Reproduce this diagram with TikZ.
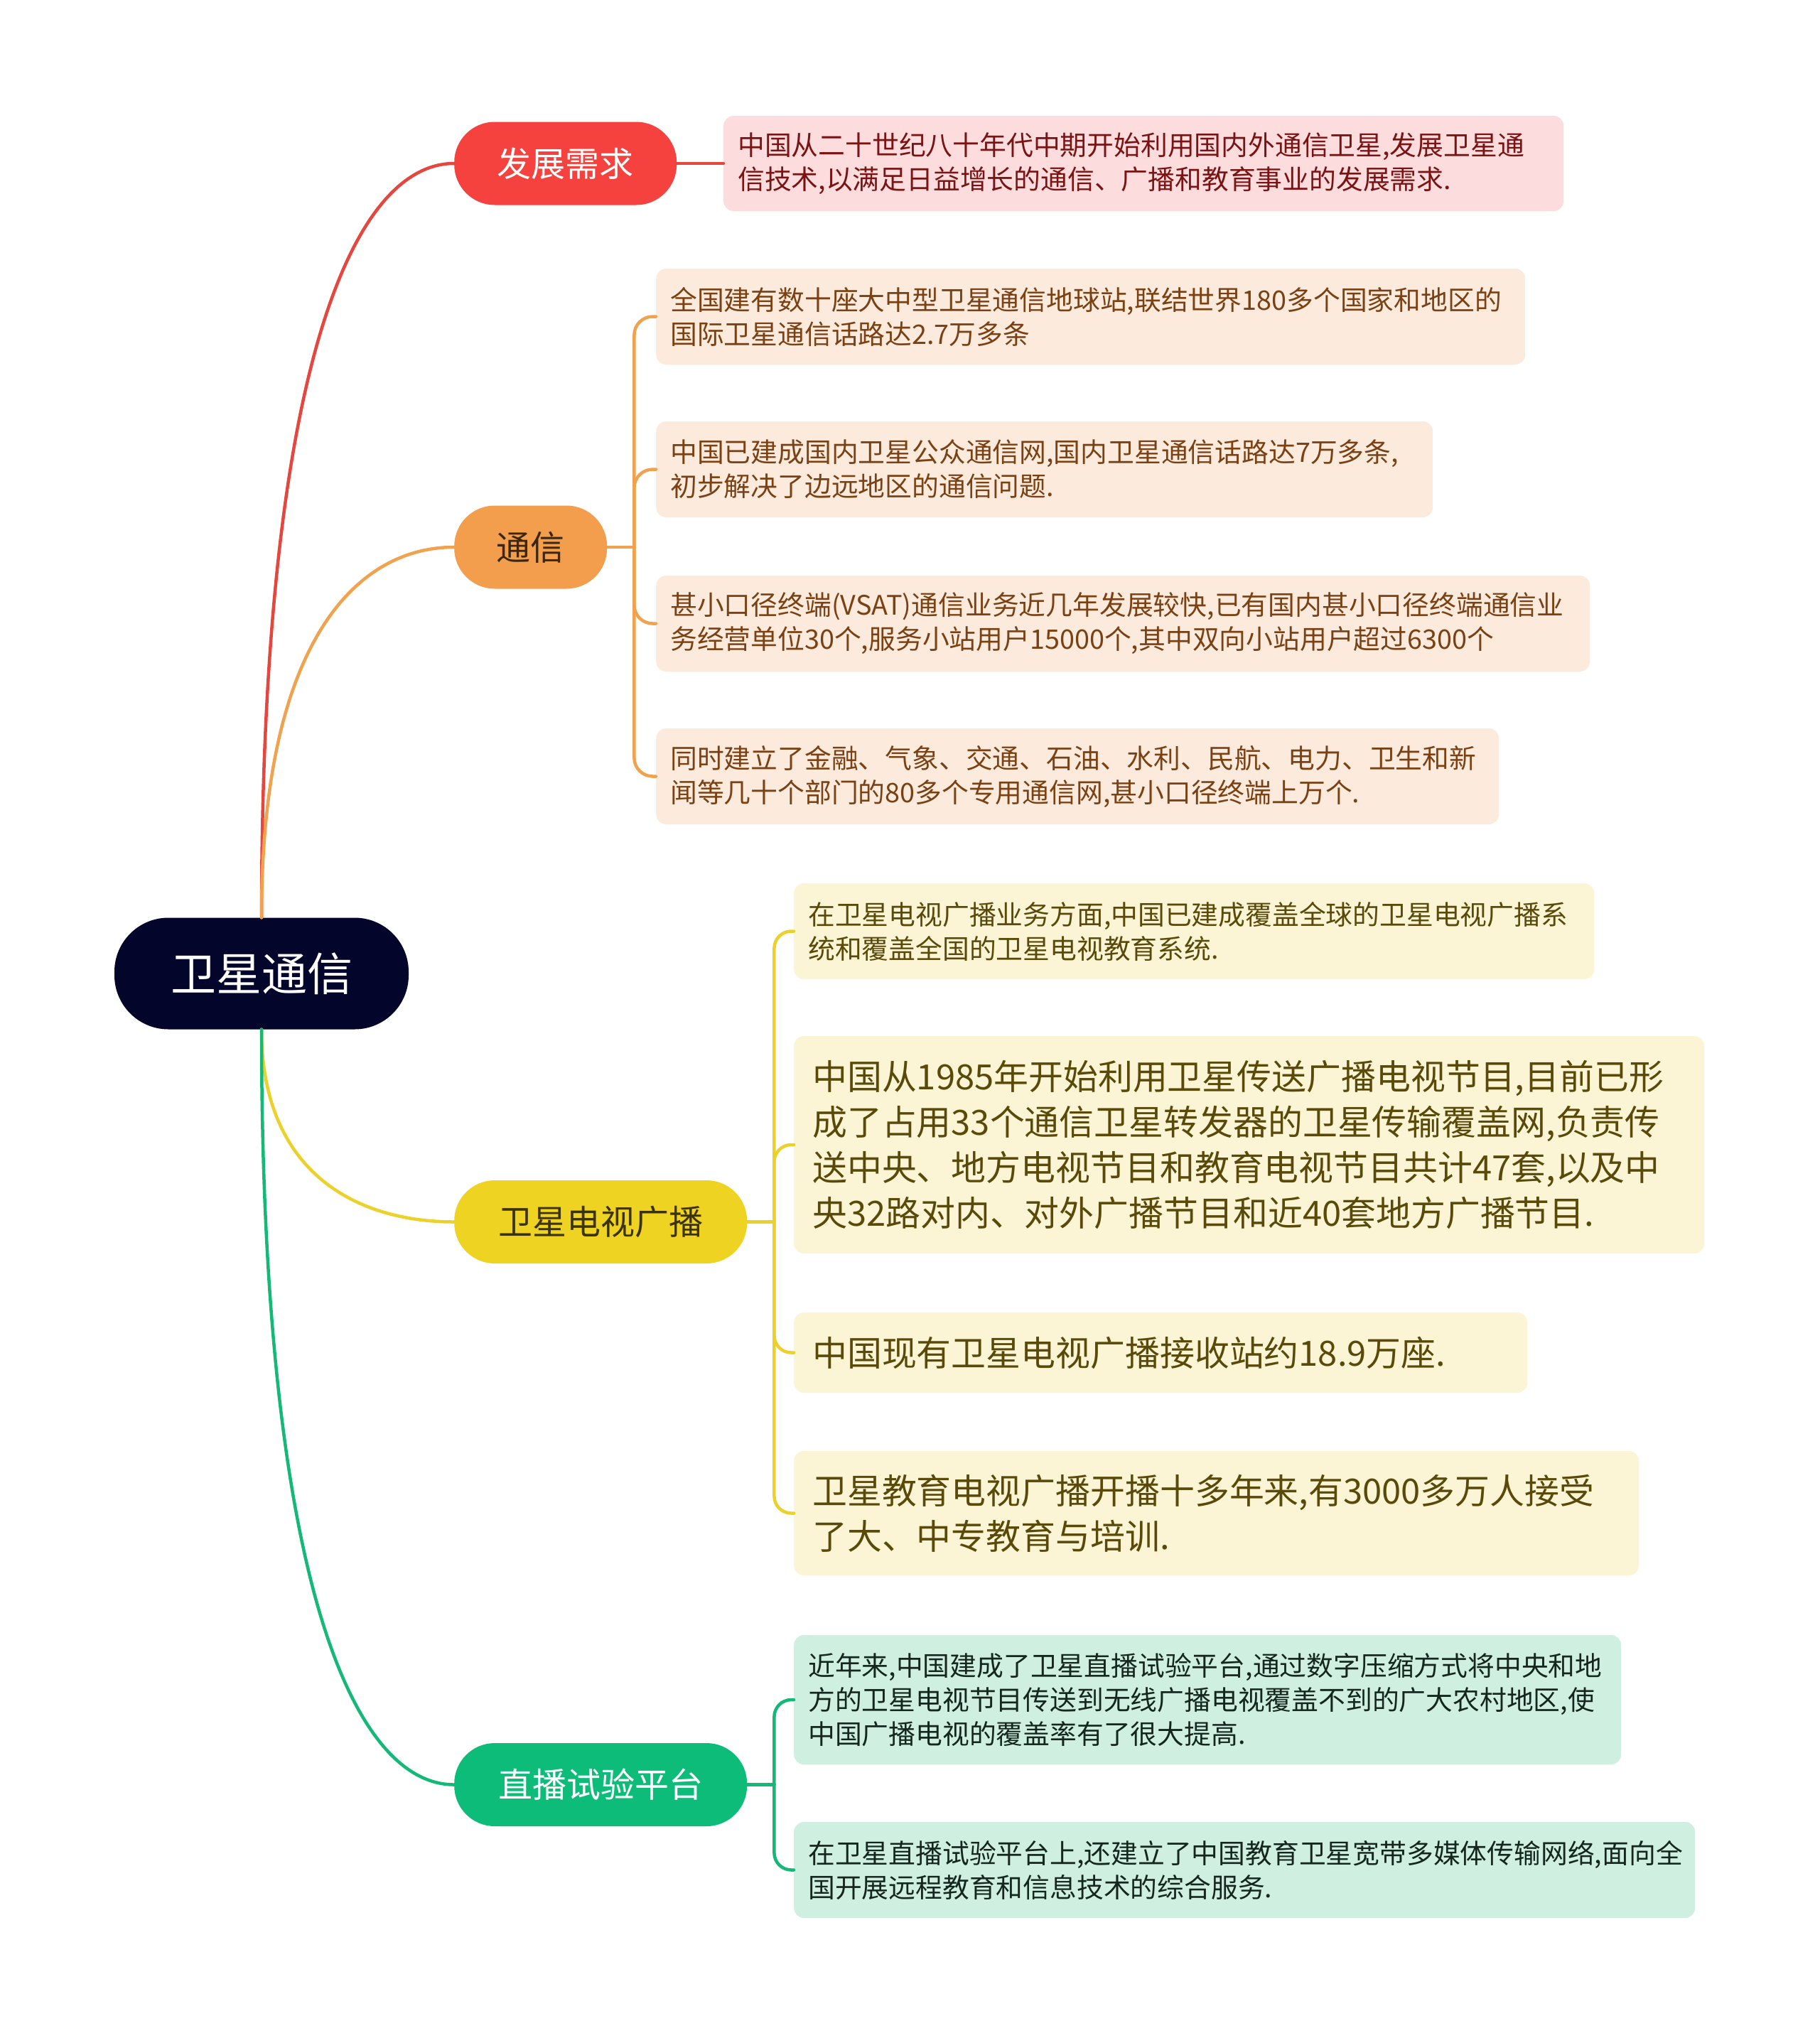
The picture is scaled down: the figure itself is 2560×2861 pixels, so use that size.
\documentclass[tikz,border=0pt]{standalone}
\usepackage{fontspec}
\setmainfont{Noto Sans CJK SC}
\definecolor{rootnavy}{HTML}{03052A}
\definecolor{devred}{HTML}{F5423F}
\definecolor{devline}{HTML}{E5463D}
\definecolor{devfill}{HTML}{FDDCDD}
\definecolor{devtext}{HTML}{7A1414}
\definecolor{commorange}{HTML}{F29E4C}
\definecolor{commline}{HTML}{F0A24F}
\definecolor{commfill}{HTML}{FCEBDD}
\definecolor{commtext}{HTML}{7A4214}
\definecolor{commdark}{HTML}{3B2610}
\definecolor{tvyellow}{HTML}{EFD322}
\definecolor{tvline}{HTML}{EDD12B}
\definecolor{tvfill}{HTML}{FBF5D5}
\definecolor{tvtext}{HTML}{5A4A0A}
\definecolor{tvdark}{HTML}{3B3206}
\definecolor{dbsgreen}{HTML}{0EBC7A}
\definecolor{dbsline}{HTML}{14B877}
\definecolor{dbsfill}{HTML}{CFF0E1}
\definecolor{dbstext}{HTML}{15261E}
\usetikzlibrary{calc}

\begin{document}
\begin{tikzpicture}[x=1pt, y=-1pt,
  rootbox/.style={rounded corners=76pt, minimum width=414pt, minimum height=157pt, inner sep=0pt, font=\fontsize{64}{72}\selectfont},
  topic/.style={rounded corners=57pt, minimum height=117pt, inner sep=0pt, anchor=west, font=\fontsize{48}{58}\selectfont},
  leaf/.style={rounded corners=14pt, anchor=west, align=left, inner xsep=20pt, inner ysep=0pt, font=\fontsize{37.8}{48}\selectfont},
  bigleaf/.style={leaf, inner xsep=26pt, font=\fontsize{48.9}{64}\selectfont},
  link/.style={line width=4.5pt, line cap=round}
]
  \fill[white] (0,0) rectangle (2560,2861);
  \useasboundingbox (0,0) rectangle (2560,2861);

  \node[rootbox, fill=rootnavy, text=white] (root) at (368,1370) {卫星通信};

  \node[topic, fill=devred, text=white, minimum width=313pt] (dev) at (639,230) {发展需求};
  \node[topic, fill=commorange, text=commdark, minimum width=215pt] (comm) at (639,770) {通信};
  \node[topic, fill=tvyellow, text=tvdark, minimum width=412pt] (tv) at (639,1719.5) {卫星电视广播};
  \node[topic, fill=dbsgreen, text=white, minimum width=412pt] (dbs) at (639,2511.5) {直播试验平台};

  \node[leaf, fill=devfill, text=devtext, text width=1142pt, minimum height=134pt] (a1) at (1018,230) {中国从二十世纪八十年代中期开始利用国内外通信卫星,发展卫星通\\信技术,以满足日益增长的通信、广播和教育事业的发展需求.};

  \node[leaf, fill=commfill, text=commtext, text width=1183pt, minimum height=135pt] (b1) at (923,445.5) {全国建有数十座大中型卫星通信地球站,联结世界180多个国家和地区的\\国际卫星通信话路达2.7万多条};
  \node[leaf, fill=commfill, text=commtext, text width=1053pt, minimum height=135pt] (b2) at (923,660.5) {中国已建成国内卫星公众通信网,国内卫星通信话路达7万多条,\\初步解决了边远地区的通信问题.};
  \node[leaf, fill=commfill, text=commtext, text width=1274pt, minimum height=135pt] (b3) at (923,877.5) {甚小口径终端(VSAT)通信业务近几年发展较快,已有国内甚小口径终端通信业\\务经营单位30个,服务小站用户15000个,其中双向小站用户超过6300个};
  \node[leaf, fill=commfill, text=commtext, text width=1146pt, minimum height=135pt] (b4) at (923,1092.5) {同时建立了金融、气象、交通、石油、水利、民航、电力、卫生和新\\闻等几十个部门的80多个专用通信网,甚小口径终端上万个.};

  \node[leaf, fill=tvfill, text=tvtext, text width=1086pt, minimum height=135pt] (c1) at (1117,1310.5) {在卫星电视广播业务方面,中国已建成覆盖全球的卫星电视广播系\\统和覆盖全国的卫星电视教育系统.};
  \node[bigleaf, fill=tvfill, text=tvtext, text width=1229pt, minimum height=306pt] (c2) at (1117,1611) {中国从1985年开始利用卫星传送广播电视节目,目前已形\\成了占用33个通信卫星转发器的卫星传输覆盖网,负责传\\送中央、地方电视节目和教育电视节目共计47套,以及中\\央32路对内、对外广播节目和近40套地方广播节目.};
  \node[bigleaf, fill=tvfill, text=tvtext, text width=980pt, minimum height=113pt] (c3) at (1117,1903.5) {中国现有卫星电视广播接收站约18.9万座.};
  \node[bigleaf, fill=tvfill, text=tvtext, text width=1137pt, minimum height=175pt] (c4) at (1117,2129.5) {卫星教育电视广播开播十多年来,有3000多万人接受\\了大、中专教育与培训.};

  \node[leaf, fill=dbsfill, text=dbstext, text width=1124pt, minimum height=182pt] (d1) at (1117,2392) {近年来,中国建成了卫星直播试验平台,通过数字压缩方式将中央和地\\方的卫星电视节目传送到无线广播电视覆盖不到的广大农村地区,使\\中国广播电视的覆盖率有了很大提高.};
  \node[leaf, fill=dbsfill, text=dbstext, text width=1228pt, minimum height=135pt] (d2) at (1117,2631.5) {在卫星直播试验平台上,还建立了中国教育卫星宽带多媒体传输网络,面向全\\国开展远程教育和信息技术的综合服务.};

  \draw[link, devline] (root.north) .. controls ($(root.north)!0.75!(root.north |- dev.west)$) and ($(root.north |- dev.west)!0.5!(dev.west)$) .. (dev.west);
  \draw[link, commline] (root.north) .. controls ($(root.north)!0.75!(root.north |- comm.west)$) and ($(root.north |- comm.west)!0.5!(comm.west)$) .. (comm.west);
  \draw[link, tvline] (root.south) .. controls ($(root.south)!0.75!(root.south |- tv.west)$) and ($(root.south |- tv.west)!0.5!(tv.west)$) .. (tv.west);
  \draw[link, dbsline] (root.south) .. controls ($(root.south)!0.75!(root.south |- dbs.west)$) and ($(root.south |- dbs.west)!0.5!(dbs.west)$) .. (dbs.west);

  \draw[link, devline] (dev.east) -- (a1.west);

  \coordinate (commj) at ($(comm.east)+(38,0)$);
  \draw[link, commline] (comm.east) -- (commj);
  \draw[link, commline, rounded corners=26pt] (commj) |- (b1.west);
  \draw[link, commline, rounded corners=26pt] (commj) |- (b2.west);
  \draw[link, commline, rounded corners=26pt] (commj) |- (b3.west);
  \draw[link, commline, rounded corners=26pt] (commj) |- (b4.west);

  \coordinate (tvj) at ($(tv.east)+(38,0)$);
  \draw[link, tvline] (tv.east) -- (tvj);
  \draw[link, tvline, rounded corners=24pt] (tvj) |- (c1.west);
  \draw[link, tvline, rounded corners=24pt] (tvj) |- (c2.west);
  \draw[link, tvline, rounded corners=24pt] (tvj) |- (c3.west);
  \draw[link, tvline, rounded corners=24pt] (tvj) |- (c4.west);

  \coordinate (dbsj) at ($(dbs.east)+(38,0)$);
  \draw[link, dbsline] (dbs.east) -- (dbsj);
  \draw[link, dbsline, rounded corners=24pt] (dbsj) |- (d1.west);
  \draw[link, dbsline, rounded corners=24pt] (dbsj) |- (d2.west);
\end{tikzpicture}
\end{document}
